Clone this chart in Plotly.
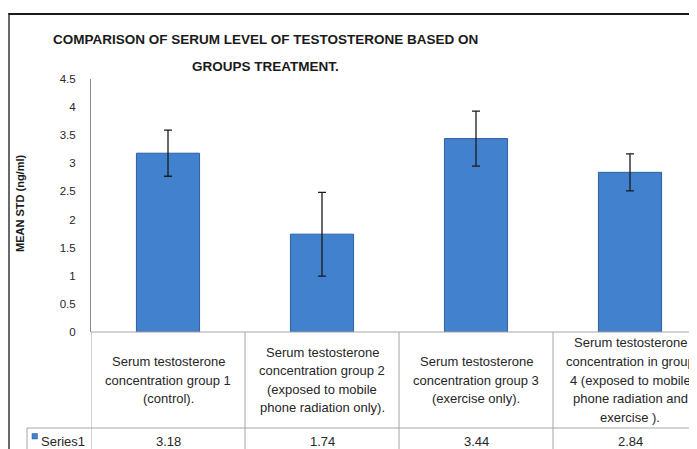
import plotly.graph_objects as go

# ---------------- data ----------------
categories = [
    ["Serum testosterone", "concentration group 1", "(control)."],
    ["Serum testosterone", "concentration group 2", "(exposed to mobile", "phone radiation only)."],
    ["Serum testosterone", "concentration group 3", "(exercise only)."],
    ["Serum testosterone", "concentration in group", "4 (exposed to mobile", "phone radiation and", "exercise )."],
]
means = [3.18, 1.74, 3.44, 2.84]
std_err = [0.41, 0.745, 0.49, 0.33]
series_name = "Series1"
y_ticks = [0, 0.5, 1, 1.5, 2, 2.5, 3, 3.5, 4, 4.5]
title_lines = ["COMPARISON OF SERUM LEVEL OF TESTOSTERONE BASED ON", "GROUPS TREATMENT."]
y_title = "MEAN STD (ng/ml)"

# ---------------- layout geometry (pixels) ----------------
OFF = 8  # page body margin of the browser
W, H = 697 - OFF, 449 - OFF
L, R, T, B = 91 - OFF, 0, 79 - OFF, 449 - 332
PW, PH = W - L - R, H - T - B
COL = 154.0  # pixel width of one category column


def px(xp):  # reference pixel x -> paper
    return (xp - OFF - L) / PW


def py(yp):  # reference pixel y -> paper
    return (H - B - (yp - OFF)) / PH


x_pos = list(range(len(means)))
x_min = -0.5
x_max = x_min + PW / COL

fig = go.Figure()
fig.add_trace(go.Bar(
    x=x_pos, y=means, width=0.41, name=series_name,
    marker=dict(color="#4281CD", line=dict(color="#2F5E9E", width=1)),
    error_y=dict(type="data", array=std_err, visible=True, color="#1a1a1a", thickness=1.3, width=4),
    showlegend=False,
))

shapes = []
line_col = "#A6A6A6"
# chart outer border (right and bottom edges fall outside the picture)
shapes.append(dict(type="line", xref="paper", yref="paper", x0=px(9), x1=px(9), y0=py(13), y1=py(470),
                   line=dict(color="#1a1a1a", width=1.3), layer="above"))
shapes.append(dict(type="line", xref="paper", yref="paper", x0=px(8.5), x1=1, y0=py(14), y1=py(14),
                   line=dict(color="#1a1a1a", width=2), layer="above"))
# table vertical lines
for i in range(len(means) + 1):
    shapes.append(dict(type="line", xref="x", yref="paper", x0=x_min + i, x1=x_min + i,
                       y0=0, y1=py(460), line=dict(color=line_col, width=1)))
# bottom axis / table top line
shapes.append(dict(type="line", xref="paper", yref="paper", x0=0, x1=px(705), y0=0, y1=0,
                   line=dict(color=line_col, width=1)))
# row separator for the data row
shapes.append(dict(type="line", xref="paper", yref="paper", x0=px(27), x1=px(705), y0=py(428), y1=py(428),
                   line=dict(color=line_col, width=1)))
shapes.append(dict(type="line", xref="paper", yref="paper", x0=px(27), x1=px(27), y0=py(428), y1=py(460),
                   line=dict(color=line_col, width=1)))
# legend key
shapes.append(dict(type="rect", xref="paper", yref="paper", x0=px(32), x1=px(37.5), y0=py(439), y1=py(433.5),
                   fillcolor="#4281CD", line=dict(color="#2F5E9E", width=0.5)))

annotations = []
txt_font = dict(family="Liberation Sans", size=13, color="#262626")
# category labels, one line at a time
LINE_H = 18.6
for i, lines in enumerate(categories):
    n = len(lines)
    for j, s in enumerate(lines):
        yc = 380 + (j - (n - 1) / 2) * LINE_H
        annotations.append(dict(text=s, xref="x", yref="paper", x=i, y=py(yc), showarrow=False,
                                xanchor="center", yanchor="middle", font=txt_font))
# data row
for i, v in enumerate(means):
    annotations.append(dict(text=f"{v:.2f}", xref="x", yref="paper", x=i, y=py(441), showarrow=False,
                            xanchor="center", yanchor="middle", font=txt_font))
annotations.append(dict(text=series_name, xref="paper", yref="paper", x=px(38.5), y=py(441), showarrow=False,
                        xanchor="left", yanchor="middle", font=txt_font))
# title lines
title_font = dict(family="Liberation Sans", size=13.5, color="#1a1a1a")
for s, yc in zip(title_lines, [39.5, 66.5]):
    annotations.append(dict(text=f"<b>{s}</b>", xref="paper", yref="paper", x=px(265), y=py(yc),
                            showarrow=False, xanchor="center", yanchor="middle", font=title_font))
# y-axis title
annotations.append(dict(text=f"<b>{y_title}</b>", xref="paper", yref="paper", x=px(20), y=py(204),
                        showarrow=False, textangle=-90, xanchor="center", yanchor="middle",
                        font=dict(family="Liberation Sans", size=11, color="#1a1a1a")))

fig.update_layout(
    width=W, height=H,
    margin=dict(l=L, r=R, t=T, b=B, pad=0),
    paper_bgcolor="white", plot_bgcolor="white",
    xaxis=dict(range=[x_min, x_max], showticklabels=False, showgrid=False, zeroline=False,
               showline=False, ticks=""),
    yaxis=dict(range=[0, 4.5], tickvals=y_ticks, ticktext=[f"{t:g}" for t in y_ticks],
               showgrid=False, zeroline=False, showline=True, linecolor="#8C8C8C", linewidth=1,
               ticks="", ticklabelstandoff=12,
               tickfont=dict(family="Liberation Sans", size=11.5, color="#262626")),
    shapes=shapes, annotations=annotations,
)

fig.write_html("out.html")
